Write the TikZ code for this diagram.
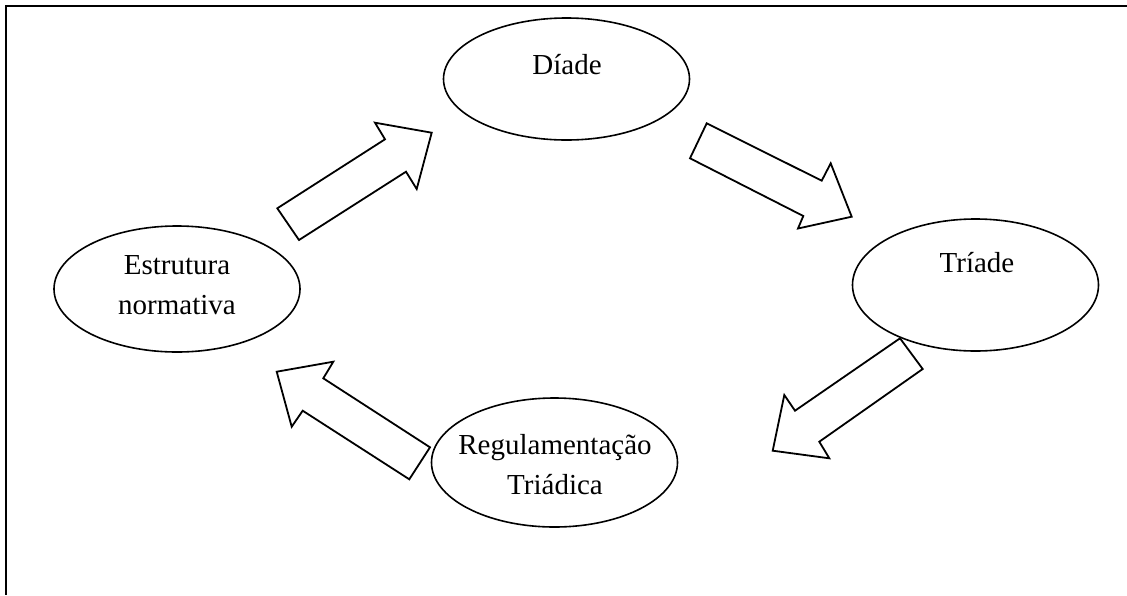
\documentclass[tikz,border=0pt]{standalone}
\usepackage{fontspec}
\setmainfont{Liberation Serif}
\usetikzlibrary{shapes.geometric}
\begin{document}
\begin{tikzpicture}[x=1pt,y=-1pt,
  ell/.style={draw=black,line width=1.6pt,ellipse,inner sep=0pt,minimum width=246pt},
  lbl/.style={font=\fontsize{29}{40}\selectfont,align=center,inner sep=0pt},
  blockarrow/.style={draw=black,fill=white,line width=1.8pt,line join=miter}]
\useasboundingbox (0,0) rectangle (1127,595);
\draw[line width=2pt] (1127,5.5) -- (6,5.5) -- (6,595);
% ellipses
\node[ell,minimum height=122pt] (diade) at (566.5,79) {};
\node[ell,minimum height=132pt] (triade) at (975.5,285) {};
\node[ell,minimum height=126pt] (estrutura) at (177,289) {};
\node[ell,minimum height=129pt] (regul) at (554.5,462.5) {};
% labels
\node[lbl] (tdiade) at (567,65) {Díade};
\node[lbl] (ttriade) at (977,263) {Tríade};
\node[lbl] (testrutura) at (177,285) {Estrutura\\normativa};
\node[lbl] (tregul) at (555,465) {Regulamentação\\Triádica};
% block arrows
\draw[blockarrow] (277.3,208.3) -- (299,240) -- (406,171.7) -- (416.7,189) -- (431.7,132.7) -- (375,122.7) -- (385,139.3) -- cycle;
\draw[blockarrow] (706.7,123.3) -- (690,158.3) -- (803.3,216) -- (798,228.5) -- (851.7,216.7) -- (830.7,163.3) -- (821.7,180.7) -- cycle;
\draw[blockarrow] (900,338.3) -- (922.7,369) -- (819.3,441.7) -- (829.3,458.3) -- (772.7,450.7) -- (784.3,395) -- (795,410.7) -- cycle;
\draw[blockarrow] (430,447.3) -- (409.3,479.3) -- (302.7,410.7) -- (291.7,426.7) -- (276.7,371.7) -- (333.3,361.7) -- (323.3,378.3) -- cycle;
\end{tikzpicture}
\end{document}
